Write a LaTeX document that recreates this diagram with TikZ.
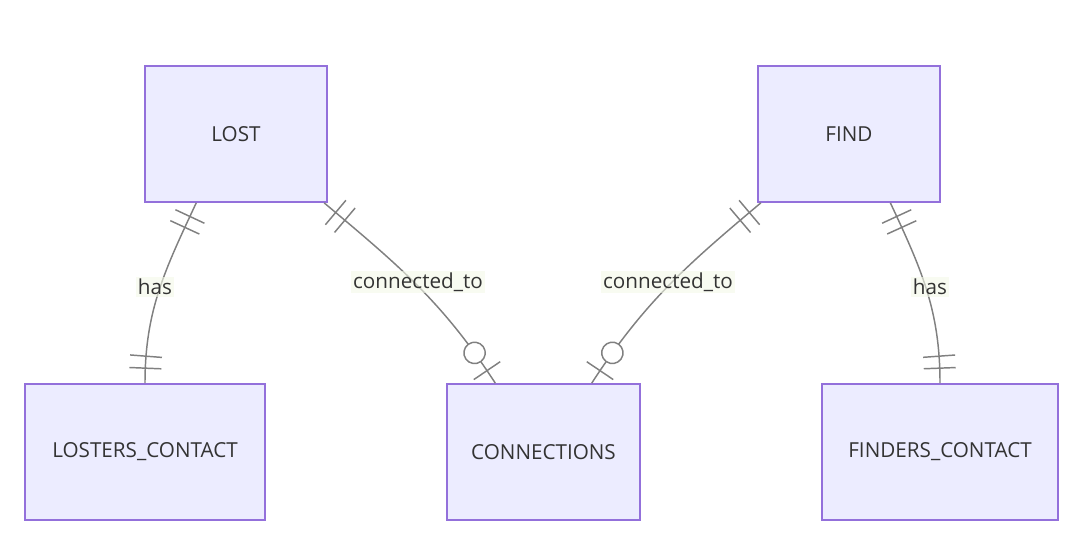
\documentclass[tikz,border=0pt]{standalone}
\usepackage{fontspec}
\setmainfont{Open Sans}
\usetikzlibrary{decorations.markings}

\definecolor{entfill}{HTML}{ECECFF}
\definecolor{entline}{HTML}{9370DB}
\definecolor{relline}{HTML}{808080}
\definecolor{labfill}{HTML}{F4F9E8}
\definecolor{txt}{HTML}{333333}

\tikzset{
  entity/.style={draw=entline, fill=entfill, line width=1.3pt, inner sep=0pt,
                 minimum height=102pt, font=\fontsize{15.5}{17}\selectfont, text=txt},
  rel/.style={draw=relline, line width=1.1pt},
  rlabel/.style={fill=labfill, fill opacity=0.6, text opacity=1, inner sep=1.5pt,
                 font=\fontsize{15.5}{17}\selectfont, text=txt},
  % exactly one at both ends
  oneone/.style={rel, postaction={decorate}, decoration={markings,
    mark=at position 11.25pt with {\draw[rel] (0,-12pt) -- (0,12pt);},
    mark=at position 20.25pt with {\draw[rel] (0,-12pt) -- (0,12pt);},
    mark=at position -11.25pt with {\draw[rel] (0,-12pt) -- (0,12pt);},
    mark=at position -20.25pt with {\draw[rel] (0,-12pt) -- (0,12pt);}}},
  % exactly one at start, zero or one at end
  onezero/.style={rel, postaction={decorate}, decoration={markings,
    mark=at position 11.25pt with {\draw[rel] (0,-12pt) -- (0,12pt);},
    mark=at position 20.25pt with {\draw[rel] (0,-12pt) -- (0,12pt);},
    mark=at position -11.25pt with {\draw[rel] (0,-12pt) -- (0,12pt);},
    mark=at position -27.5pt with {\draw[rel, fill=white] (0,0) circle (8pt);}}}
}

\begin{document}
\begin{tikzpicture}[x=0.75pt, y=0.75pt]
  \useasboundingbox (0,0) rectangle (1084,-543);

  % Entities
  \node[entity, minimum width=136.5pt] (lost) at (236,-134) {LOST};
  \node[entity, minimum width=136.5pt] (find) at (849,-134) {FIND};
  \node[entity, minimum width=180pt] (lcontact) at (145,-452) {LOSTERS\_CONTACT};
  \node[entity, minimum width=144.75pt] (conn) at (543.5,-452) {CONNECTIONS};
  \node[entity, minimum width=177pt] (fcontact) at (940,-452) {FINDERS\_CONTACT};

  % Relations
  \draw[oneone] (lost.-120.5) to[out=245, in=90] (lcontact.north);
  \draw[onezero] (lost.-38) to[out=-40, in=123] (conn.125.5);
  \draw[onezero] (find.-142) to[out=220, in=57] (conn.55.6);
  \draw[oneone] (find.-59.5) to[out=295, in=90] (fcontact.north);

  % Labels
  \node[rlabel] (haslost) at (155,-287) {has};
  \node[rlabel] (connlost) at (418,-282) {connected\_to};
  \node[rlabel] (connfind) at (668,-282) {connected\_to};
  \node[rlabel] (hasfind) at (930,-287) {has};
\end{tikzpicture}
\end{document}
